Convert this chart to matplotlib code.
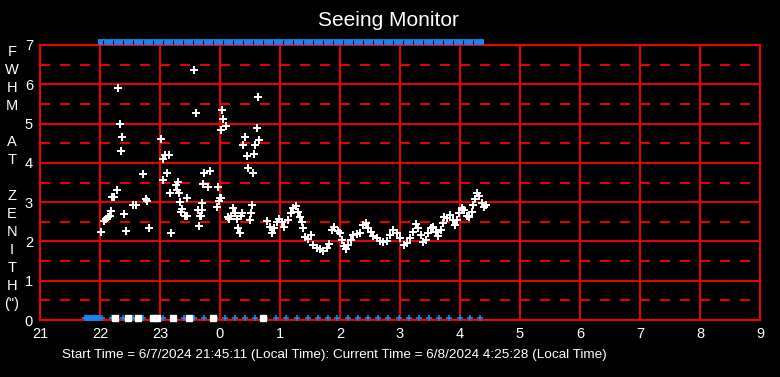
import numpy as np
import matplotlib
matplotlib.use("Agg")
import matplotlib.pyplot as plt

plt.rcParams['font.family'] = ['Liberation Sans', 'DejaVu Sans']
plt.rcParams['lines.scale_dashes'] = False

# seeing samples: hours after midnight of 6/7 (24+ = next day), FWHM in arcsec
seeing_t = [22.30, 23.57, 24.63, 23.60, 24.03, 24.05, 22.33, 24.10, 24.02, 22.37,
            23.02, 24.62, 24.42, 24.38, 24.58, 24.65, 22.35, 23.08, 23.15, 23.05,
            24.45, 24.57, 24.47, 24.55, 22.72, 23.12, 23.73, 23.83, 23.05, 23.72,
            23.80, 23.97, 23.30, 23.27, 22.28, 22.20, 22.23, 23.28, 23.32, 23.17,
            23.45, 24.00, 22.77, 23.33, 23.70, 23.98, 24.02, 23.95, 22.78, 22.55,
            22.60, 22.18, 22.40, 22.13, 22.10, 22.07, 22.17, 22.02, 22.43, 22.82,
            23.18, 23.37, 23.35, 23.42, 23.45, 23.63, 23.70, 23.67, 23.68, 23.65,
            24.22, 24.25, 24.18, 24.13, 24.15, 24.28, 24.35, 24.37, 24.30, 24.33,
            24.53, 24.52, 24.50,
            24.78, 24.83, 24.87, 24.90, 24.95, 24.98, 25.03, 25.07, 25.13, 25.18,
            25.22, 25.27, 25.30, 25.33, 25.37, 25.38, 25.42, 25.47, 25.52, 25.55,
            25.62, 25.67, 25.72, 25.78, 25.82, 25.87, 25.90, 25.97, 26.00, 26.03,
            26.07, 26.10, 26.13, 26.18, 26.22, 26.28, 26.33, 26.38, 26.43, 26.47,
            26.52, 26.55, 26.62, 26.67, 26.72, 26.78, 26.83, 26.88, 26.95, 27.00,
            27.07, 27.12, 27.17, 27.22, 27.27, 27.30, 27.35, 27.38, 27.43, 27.47,
            27.52, 27.55, 27.60, 27.63, 27.68, 27.72, 27.73, 27.78, 27.83, 27.88,
            27.92, 27.95, 27.98, 28.03, 28.07, 28.12, 28.15, 28.20, 28.22, 28.25,
            28.28, 28.32, 28.37, 28.40, 28.43]
seeing_v = [5.90, 6.36, 5.67, 5.27, 5.34, 5.11, 4.99, 4.94, 4.83, 4.66,
            4.60, 4.89, 4.66, 4.45, 4.45, 4.58, 4.30, 4.20, 4.20, 4.10,
            4.17, 4.22, 3.87, 3.74, 3.71, 3.74, 3.74, 3.79, 3.56, 3.46,
            3.38, 3.38, 3.51, 3.43, 3.31, 3.13, 3.13, 3.31, 3.23, 3.23,
            3.10, 3.10, 3.08, 3.00, 2.98, 3.03, 3.10, 2.88, 3.03, 2.93,
            2.93, 2.77, 2.70, 2.62, 2.57, 2.52, 2.65, 2.24, 2.26, 2.34,
            2.21, 2.82, 2.75, 2.65, 2.65, 2.80, 2.80, 2.65, 2.65, 2.39,
            2.85, 2.72, 2.65, 2.62, 2.57, 2.57, 2.65, 2.72, 2.34, 2.21,
            2.93, 2.72, 2.54,
            2.52, 2.37, 2.21, 2.34, 2.49, 2.57, 2.49, 2.37, 2.54, 2.72,
            2.85, 2.90, 2.75, 2.62, 2.49, 2.34, 2.11, 2.06, 2.16, 1.91,
            1.83, 1.81, 1.76, 1.83, 1.93, 2.29, 2.37, 2.26, 2.21, 2.04,
            1.88, 1.81, 1.91, 2.04, 2.16, 2.19, 2.21, 2.42, 2.47, 2.34,
            2.24, 2.14, 2.09, 2.01, 1.98, 2.01, 2.16, 2.29, 2.21, 2.09,
            1.91, 1.96, 2.09, 2.24, 2.44, 2.34, 2.16, 1.98, 2.04, 2.21,
            2.34, 2.37, 2.24, 2.14, 2.29, 2.47, 2.62, 2.60, 2.67, 2.54,
            2.42, 2.54, 2.72, 2.85, 2.80, 2.65, 2.62, 2.75, 2.93, 3.08,
            3.23, 3.16, 2.98, 2.88, 2.93]

# failed measurements (plotted on the zero line)
zero_t = [22.25, 22.47, 22.63, 22.88, 22.95, 23.22, 23.48, 23.88, 24.72]

# blue status marks along the bottom
status_t = ["21:45", "21:46", "21:47", "21:48", "21:49", "21:50", "21:51", "21:52",
            "21:53", "21:54", "21:55", "21:56", "21:57", "21:58", "21:59", "22:00",
            "22:02", "22:12", "22:23", "22:33", "22:43", "22:53", "23:03", "23:14",
            "23:24", "23:34", "23:44", "23:55", "0:05", "0:15", "0:25", "0:35",
            "0:45", "0:56", "1:06", "1:17", "1:28", "1:38", "1:48", "1:57",
            "2:08", "2:18", "2:28", "2:38", "2:48", "2:59", "3:09", "3:19",
            "3:29", "3:39", "3:49", "4:00", "4:10", "4:20"]
# blue bar along the top (start, ticks, end)
top_t = ["21:58", "22:03", "22:13", "22:23", "22:33", "22:43", "22:53", "23:03",
         "23:13", "23:23", "23:33", "23:43", "23:53", "0:03", "0:13", "0:23",
         "0:33", "0:43", "0:53", "1:03", "1:13", "1:23", "1:33", "1:43", "1:53",
         "2:03", "2:13", "2:23", "2:33", "2:43", "2:53", "3:03", "3:13", "3:23",
         "3:33", "3:43", "3:53", "4:03", "4:13", "4:24"]

x_ticks = [21, 22, 23, 24, 25, 26, 27, 28, 29, 30, 31, 32, 33]
x_labels = ["21", "22", "23", "0", "1", "2", "3", "4", "5", "6", "7", "8", "9"]
ylabel_chars = ["F", "W", "H", "M", "", "A", "T", "", "Z", "E", "N", "I", "T", "H", "(\")"]


def to_hours(s):
    h, m = s.split(":")
    h = int(h)
    if h < 12:
        h += 24
    return h + int(m) / 60.0


status_h = [to_hours(s) for s in status_t]
top_h = [to_hours(s) for s in top_t]

blue = '#1784f2'
red = '#ff0000'

fig = plt.figure(figsize=(7.8, 3.77), dpi=100, facecolor='black')
ax = fig.add_axes([40 / 780, 57 / 377, 720 / 780, 275 / 377])
ax.set_facecolor('black')
ax.set_xlim(21, 33)
ax.set_ylim(0, 7)

ax.set_xticks(x_ticks)
ax.set_xticklabels(x_labels)
ax.set_yticks(range(0, 8))
ax.set_yticks(np.arange(0.5, 7, 1.0), minor=True)
ax.tick_params(axis='both', which='both', length=0, colors='white', labelsize=10.5)
ax.tick_params(axis='x', pad=5)
ax.tick_params(axis='y', pad=5)
ax.grid(True, which='major', color=red, lw=1.3, ls='-')
ax.grid(True, which='minor', axis='y', color=red, lw=1.3, ls=(0, (7.2, 7.2)))
ax.set_axisbelow(True)
for s in ax.spines.values():
    s.set_color(red)
    s.set_linewidth(1.3)

# seeing points
ax.plot(seeing_t, seeing_v, ls='none', marker='+', ms=5.5, mew=1.4, color='white', zorder=4)

# bottom status marks
ax.plot(status_h, [0.05] * len(status_h), ls='none', marker='+', ms=4.5, mew=1.2,
        color=blue, zorder=5, clip_on=False)
ax.plot(zero_t, [0.05] * len(zero_t), ls='none', marker='s', ms=4, color='white',
        zorder=6, clip_on=False)

# top bar
ax.plot([top_h[0], top_h[-1]], [7.07, 7.07], color=blue, lw=4.2, solid_capstyle='butt',
        zorder=5, clip_on=False)
ax.plot(top_h[1:-1], [7.07] * (len(top_h) - 2), ls='none', marker='|', ms=3, mew=0.8,
        color='black', zorder=6, clip_on=False)

fig.text(388 / 780, 1 - 20 / 377, "Seeing Monitor", color='white', fontsize=15,
         ha='center', va='center')
for i, ch in enumerate(ylabel_chars):
    fig.text(12 / 780, 1 - (52 + 18 * i) / 377, ch, color='white', fontsize=10.5,
             ha='center', va='center')
fig.text(334 / 780, 1 - 355 / 377,
         "Start Time = 6/7/2024 21:45:11 (Local Time): Current Time = 6/8/2024 4:25:28 (Local Time)",
         color='white', fontsize=9.7, ha='center', va='center')

fig.savefig("out.png", dpi=100, facecolor='black')
